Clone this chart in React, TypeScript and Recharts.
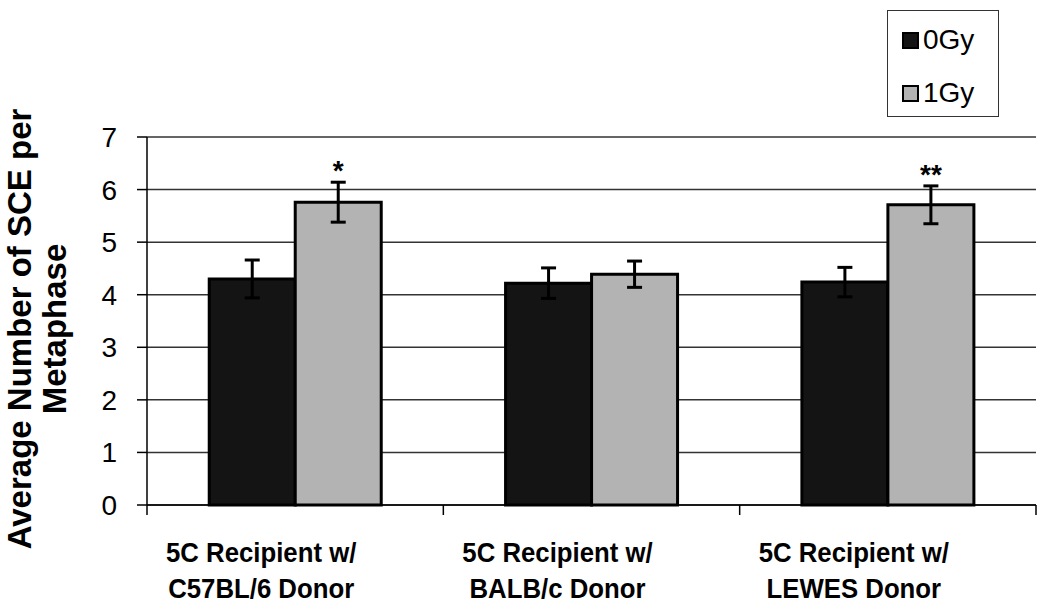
import React from 'react';
import { BarChart, Bar, XAxis, YAxis, CartesianGrid, Legend, ErrorBar, LabelList } from 'recharts';

const categories = ['5C Recipient w/|C57BL/6 Donor', '5C Recipient w/|BALB/c Donor', '5C Recipient w/|LEWES Donor'];
const dose0 = [4.3, 4.22, 4.24];
const err0 = [0.36, 0.29, 0.28];
const dose1 = [5.76, 4.39, 5.71];
const err1 = [0.38, 0.25, 0.36];
const stars = ['*', '', '**'];
const yTicks = [0, 1, 2, 3, 4, 5, 6, 7];

const FONT = '"Liberation Sans", Arial, sans-serif';

const data = categories.map((name, i) => ({
  name,
  g0: dose0[i],
  e0: err0[i],
  g1: dose1[i],
  e1: err1[i],
  sig: stars[i],
}));

// labels sit a bit left of the category centre in the original
const CategoryTick = (props: any) => {
  const { x, y, payload, index, width, visibleTicksCount } = props;
  const band = width / visibleTicksCount;
  const [l1, l2] = String(payload.value).split('|');
  const tx = x - 34;
  return (
    <g>
      {index === 0 && <line x1={x - band / 2} x2={x - band / 2} y1={y - 10} y2={y} stroke="#000" strokeWidth={1.5} />}
      <line x1={x + band / 2} x2={x + band / 2} y1={y - 10} y2={y} stroke="#000" strokeWidth={1.5} />
      <g transform={`translate(${tx} ${y}) scale(0.92 1)`} fontFamily={FONT} fontWeight="bold" fontSize={28} fill="#000">
        <text x={0} y={47} textAnchor="middle">
          {l1}
        </text>
        <text x={0} y={83} textAnchor="middle">
          {l2}
        </text>
      </g>
    </g>
  );
};

const YLabel = (props: any) => {
  const { viewBox } = props;
  const cy = viewBox.y + viewBox.height / 2 + 8;
  return (
    <g fontFamily={FONT} fontWeight="bold" fontSize={33} fill="#000">
      <text x={31} y={cy} textAnchor="middle" transform={`rotate(-90 31 ${cy})`}>
        Average Number of SCE per
      </text>
      <text x={66} y={cy} textAnchor="middle" transform={`rotate(-90 66 ${cy})`}>
        Metaphase
      </text>
    </g>
  );
};

const StarLabel = (props: any) => {
  const { x, y, width, height, value, index } = props;
  if (!value) return null;
  const v = dose1[index];
  const errTop = y - (err1[index] * height) / v;
  return (
    <text x={x + width / 2} y={errTop - 2} textAnchor="middle" fontFamily={FONT} fontWeight="bold" fontSize={28} fill="#000">
      {value}
    </text>
  );
};

const LegendBox = () => (
  <div
    style={{
      position: 'relative',
      width: 112,
      height: 107,
      border: '1.5px solid #333',
      background: '#fff',
      fontFamily: FONT,
      fontSize: 28,
      color: '#000',
      boxSizing: 'border-box',
    }}
  >
    {[
      { label: '0Gy', fill: '#141414' },
      { label: '1Gy', fill: '#b3b3b3' },
    ].map((it, i) => (
      <div key={it.label} style={{ display: 'flex', alignItems: 'center', position: 'absolute', left: 14, top: 14 + i * 53 }}>
        <span
          style={{
            width: 17,
            height: 17,
            border: '2.5px solid #000',
            background: it.fill,
            display: 'inline-block',
            marginRight: 4,
            boxSizing: 'border-box',
          }}
        />
        <span style={{ lineHeight: '30px' }}>{it.label}</span>
      </div>
    ))}
  </div>
);

export default function App() {
  return (
    <div style={{ position: 'absolute', left: 0, top: 0, background: '#fff' }}>
      <BarChart
        width={1050}
        height={615}
        data={data}
        margin={{ top: 137, right: 14, bottom: 10, left: 47 }}
        barCategoryGap="21%"
        barGap={0}
      >
        <CartesianGrid vertical={false} stroke="#333" strokeWidth={1.5} />
        <XAxis
          dataKey="name"
          height={100}
          interval={0}
          tickLine={false}
          tickSize={10}
          tickMargin={0}
          axisLine={{ stroke: '#000', strokeWidth: 1.5 }}
          tick={<CategoryTick />}
        />
        <YAxis
          width={100}
          domain={[0, 7]}
          ticks={yTicks}
          interval={0}
          tickSize={10}
          tickMargin={20}
          axisLine={{ stroke: '#000', strokeWidth: 1.5 }}
          tickLine={{ stroke: '#000', strokeWidth: 1.5 }}
          tick={{ fontSize: 28, fill: '#000', fontFamily: FONT }}
          label={<YLabel />}
        />
        <Legend
          layout="horizontal"
          verticalAlign="middle"
          align="center"
          content={<LegendBox />}
          wrapperStyle={{ left: 887, top: 10, width: 112, height: 107 }}
        />
        <Bar dataKey="g0" name="0Gy" fill="#141414" stroke="#000" strokeWidth={3} isAnimationActive={false}>
          <ErrorBar dataKey="e0" width={7.5} strokeWidth={3} stroke="#000" />
        </Bar>
        <Bar dataKey="g1" name="1Gy" fill="#b3b3b3" stroke="#000" strokeWidth={3} isAnimationActive={false}>
          <ErrorBar dataKey="e1" width={7.5} strokeWidth={3} stroke="#000" />
          <LabelList dataKey="sig" content={<StarLabel />} />
        </Bar>
      </BarChart>
    </div>
  );
}
